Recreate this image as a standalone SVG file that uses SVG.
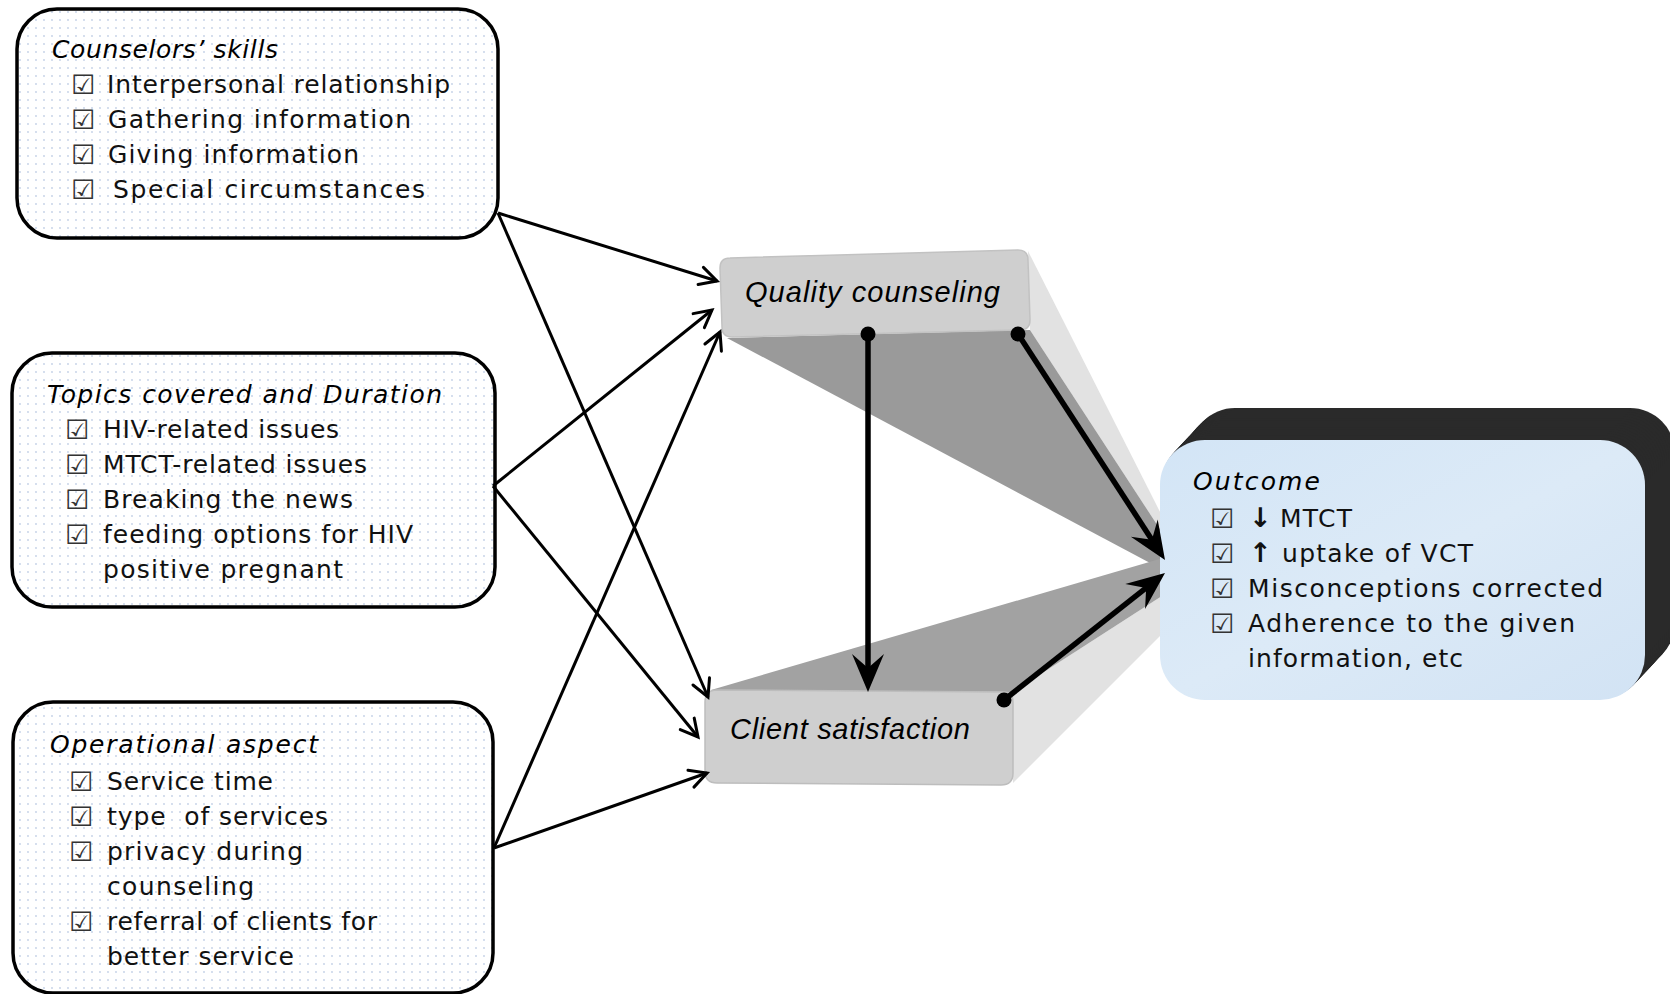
<svg xmlns="http://www.w3.org/2000/svg" xmlns:xlink="http://www.w3.org/1999/xlink" width="1670" height="994" viewBox="0 0 1670 994">
<defs>
<pattern id="dots" width="8" height="8" patternUnits="userSpaceOnUse">
<rect width="8" height="8" fill="#ffffff"/>
<circle cx="4" cy="4" r="0.9" fill="#c3d0e6"/>
</pattern>
<linearGradient id="blueg" x1="0" y1="0" x2="1" y2="1">
<stop offset="0" stop-color="#d3e5f6"/>
<stop offset="0.5" stop-color="#dceaf7"/>
<stop offset="1" stop-color="#d2e3f4"/>
</linearGradient>
<rect id="outRect" x="1160" y="440" width="485" height="260" rx="45" ry="45"/>
<marker id="open" markerUnits="userSpaceOnUse" markerWidth="40" markerHeight="40" refX="0" refY="0" orient="auto" overflow="visible">
<path d="M-17,-9 L0,0 L-17,9" fill="none" stroke="#000" stroke-width="3" stroke-linecap="round" stroke-linejoin="miter"/>
</marker>
<marker id="stealth" markerUnits="userSpaceOnUse" markerWidth="60" markerHeight="60" refX="-20" refY="0" orient="auto" overflow="visible">
<path d="M0,0 L-38,-16 L-24,0 L-38,16 Z" fill="#000"/>
</marker>
</defs>
<style>
.box{fill:url(#dots);stroke:#000;stroke-width:3.5}
.t{font-family:"DejaVu Sans","Liberation Sans",sans-serif;font-size:25px;fill:#111}
.ti{font-family:"DejaVu Sans","Liberation Sans",sans-serif;font-size:25px;font-style:oblique;fill:#000}
.cb{font-family:"DejaVu Sans",sans-serif;font-size:27px;font-weight:bold;fill:#333}
.ar{font-family:"DejaVu Sans",sans-serif;font-size:27px;font-weight:bold;fill:#111}
.mid{font-family:"Liberation Sans",Arial,sans-serif;font-size:29px;font-style:italic;fill:#000}
.thin{stroke:#000;stroke-width:3;fill:none;marker-end:url(#open)}
.thick{stroke:#000;stroke-width:5.5;fill:none;marker-end:url(#stealth)}
.dark{fill:#2a2a2a}
</style>
<rect width="1670" height="994" fill="#ffffff"/>

<g id="extrusions">
<polygon points="1028,251 1030,330 1199,589" fill="#e2e2e2"/>
<polygon points="727,338 1030,330 1199,589" fill="#9a9a9a"/>
<polygon points="1013,692 1013,783 1269,527" fill="#e2e2e2"/>
<polygon points="711,690 1013,692 1269,527" fill="#a2a2a2"/>
</g>

<g id="outcome">
<g class="dark">
<use xlink:href="#outRect" transform="translate(30,-32)"/>
<use xlink:href="#outRect" transform="translate(28,-30)"/>
<use xlink:href="#outRect" transform="translate(26,-28)"/>
<use xlink:href="#outRect" transform="translate(24,-26)"/>
<use xlink:href="#outRect" transform="translate(22,-23.5)"/>
<use xlink:href="#outRect" transform="translate(20,-21.3)"/>
<use xlink:href="#outRect" transform="translate(18,-19.2)"/>
<use xlink:href="#outRect" transform="translate(16,-17)"/>
<use xlink:href="#outRect" transform="translate(14,-15)"/>
<use xlink:href="#outRect" transform="translate(12,-12.8)"/>
<use xlink:href="#outRect" transform="translate(10,-10.7)"/>
<use xlink:href="#outRect" transform="translate(8,-8.5)"/>
<use xlink:href="#outRect" transform="translate(6,-6.4)"/>
<use xlink:href="#outRect" transform="translate(4,-4.3)"/>
<use xlink:href="#outRect" transform="translate(2,-2.1)"/>
</g>
<use xlink:href="#outRect" fill="url(#blueg)"/>
<text class="ti" x="1193" y="490" textLength="127">Outcome</text>
<text class="cb" x="1210" y="528">☑</text>
<text class="ar" x="1249" y="527">↓</text>
<text class="t" x="1280" y="527" textLength="72">MTCT</text>
<text class="cb" x="1210" y="563">☑</text>
<text class="ar" x="1249" y="562">↑</text>
<text class="t" x="1282" y="562" textLength="191">uptake of VCT</text>
<text class="cb" x="1210" y="598">☑</text>
<text class="t" x="1248" y="597" textLength="355">Misconceptions corrected</text>
<text class="cb" x="1210" y="633">☑</text>
<text class="t" x="1248" y="632" textLength="327">Adherence to the given</text>
<text class="t" x="1248" y="667" textLength="215">information, etc</text>
</g>

<g id="quality">
<path d="M730,258 L1018,250 Q1028,250 1028,260 L1030,320 Q1030,330 1020,330 L732,337 Q722,337 722,327 L720,268 Q720,258 730,258 Z" fill="#cfcfcf" stroke="#c2c2c2" stroke-width="1.5"/>
<text class="mid" x="745" y="302" textLength="255">Quality counseling</text>
</g>

<g id="client">
<path d="M717,690 L1003,692 Q1013,692 1013,702 L1013,773 Q1013,785 1001,785 L717,783 Q705,783 705,771 L705,702 Q705,690 717,690 Z" fill="#cfcfcf" stroke="#bdbdbd" stroke-width="1.5"/>
<text class="mid" x="730" y="739" textLength="240">Client satisfaction</text>
</g>

<g id="counselors">
<rect class="box" x="17" y="9" width="481" height="229" rx="40" ry="40"/>
<text class="ti" x="52" y="58" textLength="226">Counselors’ skills</text>
<text class="cb" x="71" y="94">☑</text>
<text class="t" x="107" y="93" textLength="343">Interpersonal relationship</text>
<text class="cb" x="71" y="129">☑</text>
<text class="t" x="108" y="128" textLength="303">Gathering information</text>
<text class="cb" x="71" y="164">☑</text>
<text class="t" x="108" y="163" textLength="251">Giving information</text>
<text class="cb" x="71" y="199">☑</text>
<text class="t" x="113" y="198" textLength="312">Special circumstances</text>
</g>

<g id="topics">
<rect class="box" x="12" y="353" width="483" height="254" rx="40" ry="40"/>
<text class="ti" x="47" y="403" textLength="395">Topics covered and Duration</text>
<text class="cb" x="65" y="439">☑</text>
<text class="t" x="103" y="438" textLength="236">HIV-related issues</text>
<text class="cb" x="65" y="474">☑</text>
<text class="t" x="103" y="473" textLength="264">MTCT-related issues</text>
<text class="cb" x="65" y="509">☑</text>
<text class="t" x="103" y="508" textLength="250">Breaking the news</text>
<text class="cb" x="65" y="544">☑</text>
<text class="t" x="103" y="543" textLength="310">feeding options for HIV</text>
<text class="t" x="103" y="578" textLength="240">positive pregnant</text>
</g>

<g id="operational">
<rect class="box" x="13" y="702" width="480" height="291" rx="40" ry="40"/>
<text class="ti" x="50" y="753" textLength="268">Operational aspect</text>
<text class="cb" x="69" y="791">☑</text>
<text class="t" x="107" y="790" textLength="166">Service time</text>
<text class="cb" x="69" y="826">☑</text>
<text class="t" x="107" y="825" textLength="221" xml:space="preserve">type  of services</text>
<text class="cb" x="69" y="861">☑</text>
<text class="t" x="107" y="860" textLength="196">privacy during</text>
<text class="t" x="107" y="895" textLength="147">counseling</text>
<text class="cb" x="69" y="931">☑</text>
<text class="t" x="107" y="930" textLength="270">referral of clients for</text>
<text class="t" x="107" y="965" textLength="187">better service</text>
</g>

<g id="connectors">
<path class="thin" d="M498,213 L717,281"/>
<path class="thin" d="M498,213 L708,697"/>
<path class="thin" d="M493,486 L712,310"/>
<path class="thin" d="M493,486 L698,737"/>
<path class="thin" d="M494,848 L720,332"/>
<path class="thin" d="M494,848 L707,773"/>
<path class="thick" d="M868,334 L868,672"/>
<path class="thick" d="M1018,334 L1154.1,543.2"/>
<path class="thick" d="M1004,700 L1149.3,585.4"/>
<circle cx="868" cy="334" r="7.5" fill="#000"/>
<circle cx="1018" cy="334" r="7.5" fill="#000"/>
<circle cx="1004" cy="700" r="7.5" fill="#000"/>
</g>
</svg>
